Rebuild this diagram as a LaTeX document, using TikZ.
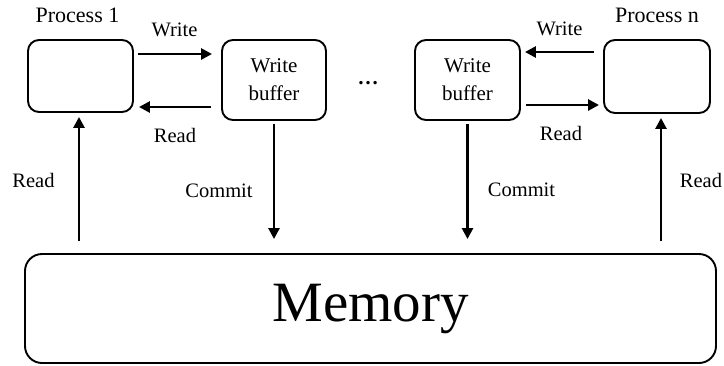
\documentclass[tikz,border=0pt]{standalone}
\usepackage{fontspec}
\setmainfont{Liberation Serif}
\usetikzlibrary{arrows.meta}

\tikzset{
  box/.style={draw, line width=1.9pt, rounded corners=11pt, inner sep=0pt},
  lbl/.style={font=\fontsize{20.5}{24}\selectfont, inner sep=0pt},
  arr/.style={line width=2.6pt, -{Triangle[length=11pt,width=11pt]}},
}

\begin{document}
\begin{tikzpicture}[x=1pt,y=-1pt]
\useasboundingbox (0,0) rectangle (724,365);
% processes and buffers
\node[box, minimum width=105pt, minimum height=72pt] (p1) at (80.5,76) {};
\node[box, minimum width=104pt, minimum height=80pt, align=center, font=\fontsize{21}{28}\selectfont] (wb1) at (274,80) {Write\\buffer};
\node[box, minimum width=105pt, minimum height=80pt, align=center, font=\fontsize{21}{28}\selectfont] (wbn) at (467.5,80) {Write\\buffer};
\node[box, minimum width=106pt, minimum height=73pt] (pn) at (657,76.5) {};
\node[box, rounded corners=17pt, minimum width=691pt, minimum height=109pt, font=\fontsize{57}{60}\selectfont] (mem) at (370.5,308.5) {Memory};
% titles
\node[lbl, font=\fontsize{22}{26}\selectfont] (t1) at (77.5,15) {Process 1};
\node[lbl, font=\fontsize{22}{26}\selectfont] (tn) at (657,15) {Process n};
\node[lbl, font=\fontsize{21}{24}\bfseries] (dots) at (368,83) {…};
% left side
\draw[arr, shorten <=4pt, shorten >=9pt] ([yshift=22pt]p1.east) -- ([yshift=22pt]p1.east -| wb1.west);
\draw[arr, shorten <=10pt, shorten >=5pt] ([yshift=-31pt]p1.east -| wb1.west) -- ([yshift=-31pt]p1.east);
\draw[arr, shorten <=12pt, shorten >=4pt] ([xshift=-1.5pt]p1.south |- mem.north) -- ([xshift=-1.5pt]p1.south);
\draw[arr, shorten <=3pt, shorten >=14pt] (wb1.south) -- (wb1.south |- mem.north);
\node[lbl] (w1) at (174.5,30) {Write};
\node[lbl] (r1) at (175,135) {Read};
\node[lbl] (rm1) at (33.5,180) {Read};
\node[lbl] (c1) at (219,191) {Commit};
% right side
\draw[arr, shorten <=9pt, shorten >=4pt] ([yshift=24.5pt]pn.west) -- ([yshift=24.5pt]pn.west -| wbn.east);
\draw[arr, shorten <=5pt, shorten >=4pt] ([yshift=-28.5pt]pn.west -| wbn.east) -- ([yshift=-28.5pt]pn.west);
\draw[arr, shorten <=12pt, shorten >=4pt] ([xshift=4pt]pn.south |- mem.north) -- ([xshift=4pt]pn.south);
\draw[arr, shorten <=3pt, shorten >=14pt] (wbn.south) -- (wbn.south |- mem.north);
\node[lbl] (wn) at (559.5,29) {Write};
\node[lbl] (rn) at (561,133) {Read};
\node[lbl] (rmn) at (701,180) {Read};
\node[lbl] (cn) at (521.5,190) {Commit};
\end{tikzpicture}
\end{document}
